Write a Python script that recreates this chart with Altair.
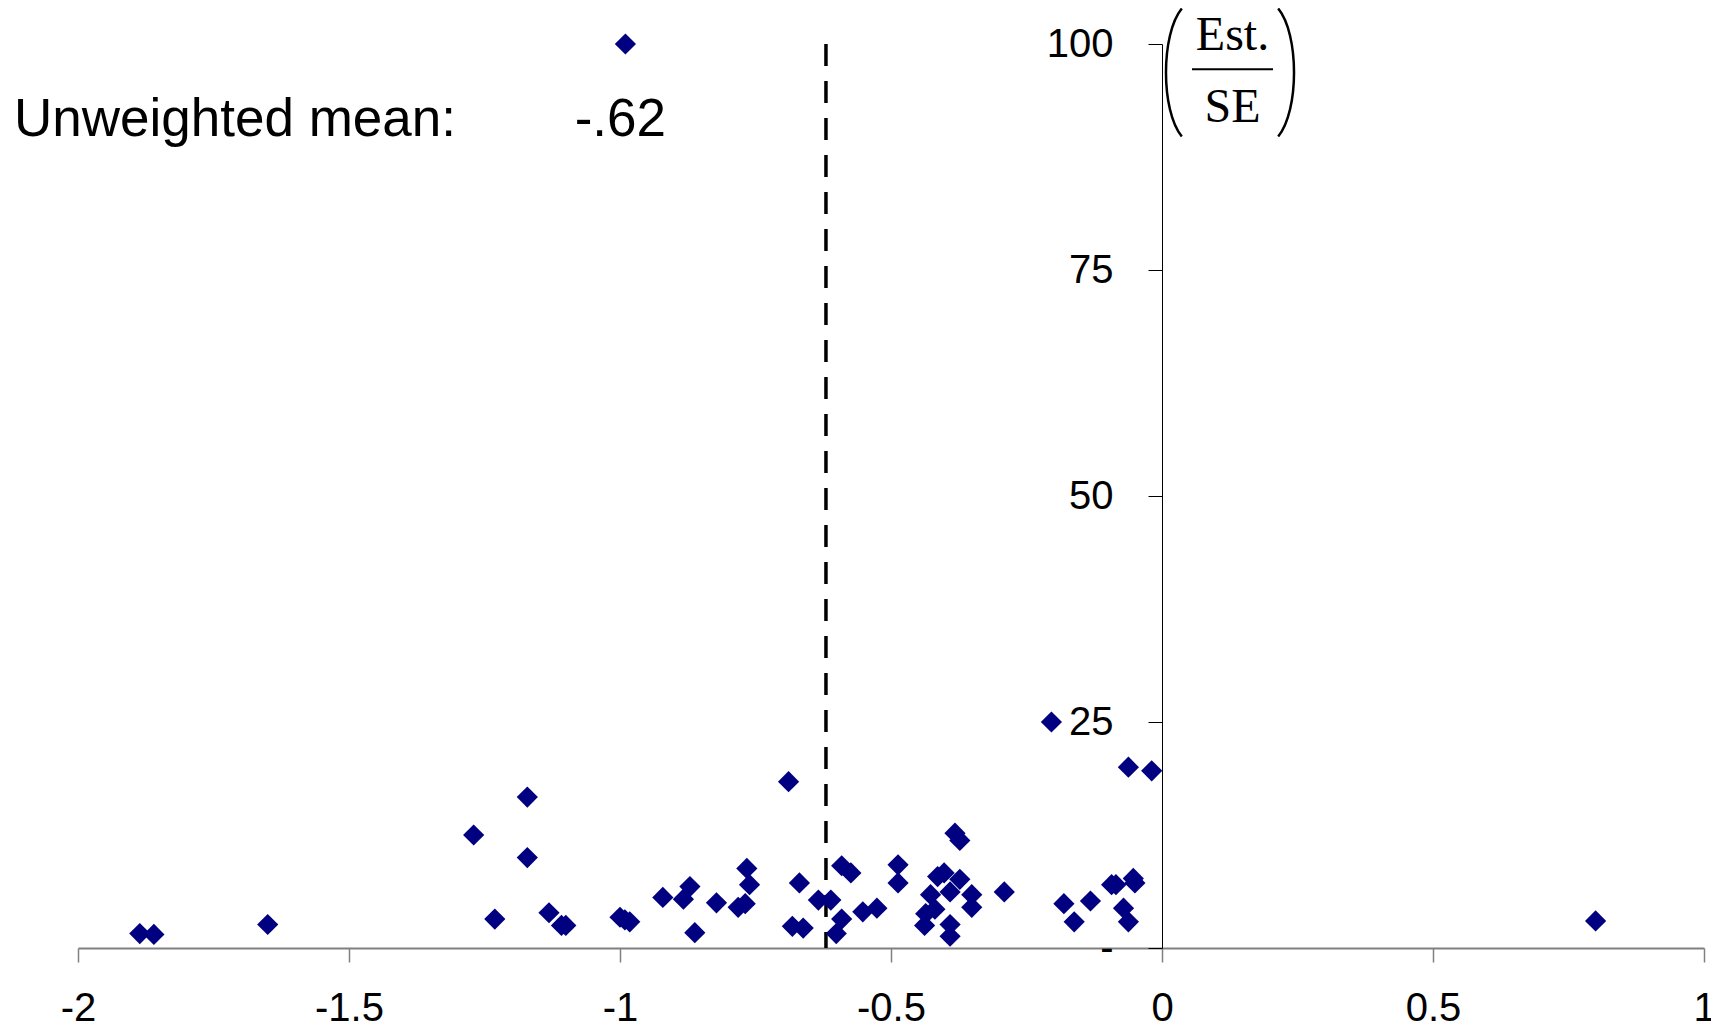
import altair as alt
import pandas as pd

# ---- data ----
est_x = [-0.99, -1.886, -1.860, -1.650, -1.270, -1.171, -1.171, -1.231, -1.131, -1.108,
         -1.100, -1.000, -0.991, -0.982, -0.921, -0.883, -0.871, -0.862, -0.822, -0.782,
         -0.769, -0.766, -0.761, -0.689, -0.682, -0.662, -0.669, -0.634, -0.611, -0.601,
         -0.591, -0.591, -0.574, -0.552, -0.526, -0.487, -0.487, -0.438, -0.436, -0.427,
         -0.419, -0.414, -0.402, -0.391, -0.373, -0.391, -0.391, -0.382, -0.373, -0.351,
         -0.351, -0.291, -0.204, -0.062, -0.019, -0.181, -0.162, -0.132, -0.093, -0.085,
         -0.053, -0.050, -0.071, -0.062, 0.80]
tstat_y = [100, 1.6, 1.5, 2.6, 12.5, 16.7, 10.0, 3.2, 3.9, 2.5,
           2.5, 3.4, 3.1, 2.9, 5.6, 5.4, 6.8, 1.7, 5.0, 4.5,
           4.9, 8.8, 7.0, 18.4, 2.4, 2.2, 7.2, 5.3, 5.3, 1.6,
           3.2, 9.1, 8.3, 4.0, 4.4, 9.2, 7.2, 2.5, 3.8, 5.9,
           4.3, 7.9, 8.3, 6.2, 7.6, 2.6, 1.3, 12.7, 11.9, 5.9,
           4.5, 6.2, 25.0, 20.0, 19.6, 4.9, 2.9, 5.2, 7.0, 7.0,
           7.7, 7.2, 4.4, 2.9, 3.0]
mean_label = ["Unweighted mean:"]
mean_text = ["-.62"]
mean_value = [-0.62]
x_ticks = [-2, -1.5, -1, -0.5, 0, 0.5, 1]
y_ticks = [0, 25, 50, 75, 100]
frac_num = ["Est."]
frac_den = ["SE"]

PLOT_W, PLOT_H = 1626, 904
NAVY = "#000080"
LPAREN = "M 0.13 -1 C -0.2 -0.6 -0.2 0.6 0.13 1"
RPAREN = "M -0.13 -1 C 0.2 -0.6 0.2 0.6 -0.13 1"

pts = pd.DataFrame({"est": est_x, "t": tstat_y})
mean_df = pd.DataFrame({"m": mean_value, "label": mean_label, "val": mean_text})
frac_df = pd.DataFrame({"num": frac_num, "den": frac_den})

x_scale = alt.Scale(domain=[x_ticks[0], x_ticks[-1]], nice=False, zero=False)
y_scale = alt.Scale(domain=[y_ticks[0], y_ticks[-1]], nice=False)

x_axis = alt.Axis(values=x_ticks, title=None, grid=False,
                  labelExpr="'' + datum.value",
                  tickSize=14, labelPadding=26, labelFontSize=40,
                  labelFont="Liberation Sans", labelColor="black",
                  domainColor="#808080", domainWidth=2,
                  tickColor="#808080", tickWidth=1.5,
                  labelFlush=False, labelOverlap=False)
y_axis = alt.Axis(values=y_ticks, title=None, grid=False, offset=-1084,
                  labelExpr="datum.value == 0 ? '-' : '' + datum.value",
                  tickSize=14, labelPadding=35, labelFontSize=40,
                  labelFont="Liberation Sans", labelColor="black",
                  domainColor="black", domainWidth=1,
                  tickColor="black", tickWidth=1,
                  labelOverlap=False)

points = alt.Chart(pts).mark_point(
    shape="diamond", filled=True, size=450, color=NAVY, opacity=1
).encode(
    x=alt.X("est:Q", scale=x_scale, axis=x_axis),
    y=alt.Y("t:Q", scale=y_scale, axis=y_axis),
)

mean_rule = alt.Chart(mean_df).mark_rule(
    color="black", strokeWidth=3.5, strokeDash=[22, 15]
).encode(
    x=alt.X("m:Q", scale=x_scale),
    y=alt.datum(y_ticks[-1], scale=y_scale),
    y2=alt.datum(y_ticks[0]),
)

mean_lbl = alt.Chart(mean_df).mark_text(
    align="left", baseline="alphabetic", fontSize=53,
    font="Liberation Sans", color="black"
).encode(x=alt.value(-64), y=alt.value(91.7), text="label:N")

mean_val = alt.Chart(mean_df).mark_text(
    align="right", baseline="alphabetic", fontSize=53,
    font="Liberation Sans", color="black"
).encode(x=alt.value(588), y=alt.value(91.7), text="val:N")

num = alt.Chart(frac_df).mark_text(
    align="center", baseline="alphabetic", fontSize=48,
    font="Liberation Serif", color="black"
).encode(x=alt.value(1154.5), y=alt.value(6), text="num:N")

den = alt.Chart(frac_df).mark_text(
    align="center", baseline="alphabetic", fontSize=48,
    font="Liberation Serif", color="black"
).encode(x=alt.value(1154.5), y=alt.value(77.7), text="den:N")

bar = alt.Chart(frac_df).mark_rule(color="black", strokeWidth=2).encode(
    x=alt.value(1114), x2=alt.value(1195), y=alt.value(25.3)
)

lp = alt.Chart(frac_df).mark_point(
    shape=LPAREN, filled=False, size=16384, strokeWidth=2.5,
    color="black", opacity=1
).encode(x=alt.value(1095.5), y=alt.value(28.5))

rp = alt.Chart(frac_df).mark_point(
    shape=RPAREN, filled=False, size=16384, strokeWidth=2.5,
    color="black", opacity=1
).encode(x=alt.value(1208.5), y=alt.value(28.5))

chart = alt.layer(
    mean_rule, points, mean_lbl, mean_val, num, den, bar, lp, rp
).properties(
    width=PLOT_W, height=PLOT_H,
    autosize=alt.AutoSizeParams(type="none"),
    padding={"left": 70, "top": 36, "right": 7, "bottom": 80},
    background="white",
).configure_view(stroke=None)

chart.save("out.html", embed_options={"renderer": "svg", "actions": False})
